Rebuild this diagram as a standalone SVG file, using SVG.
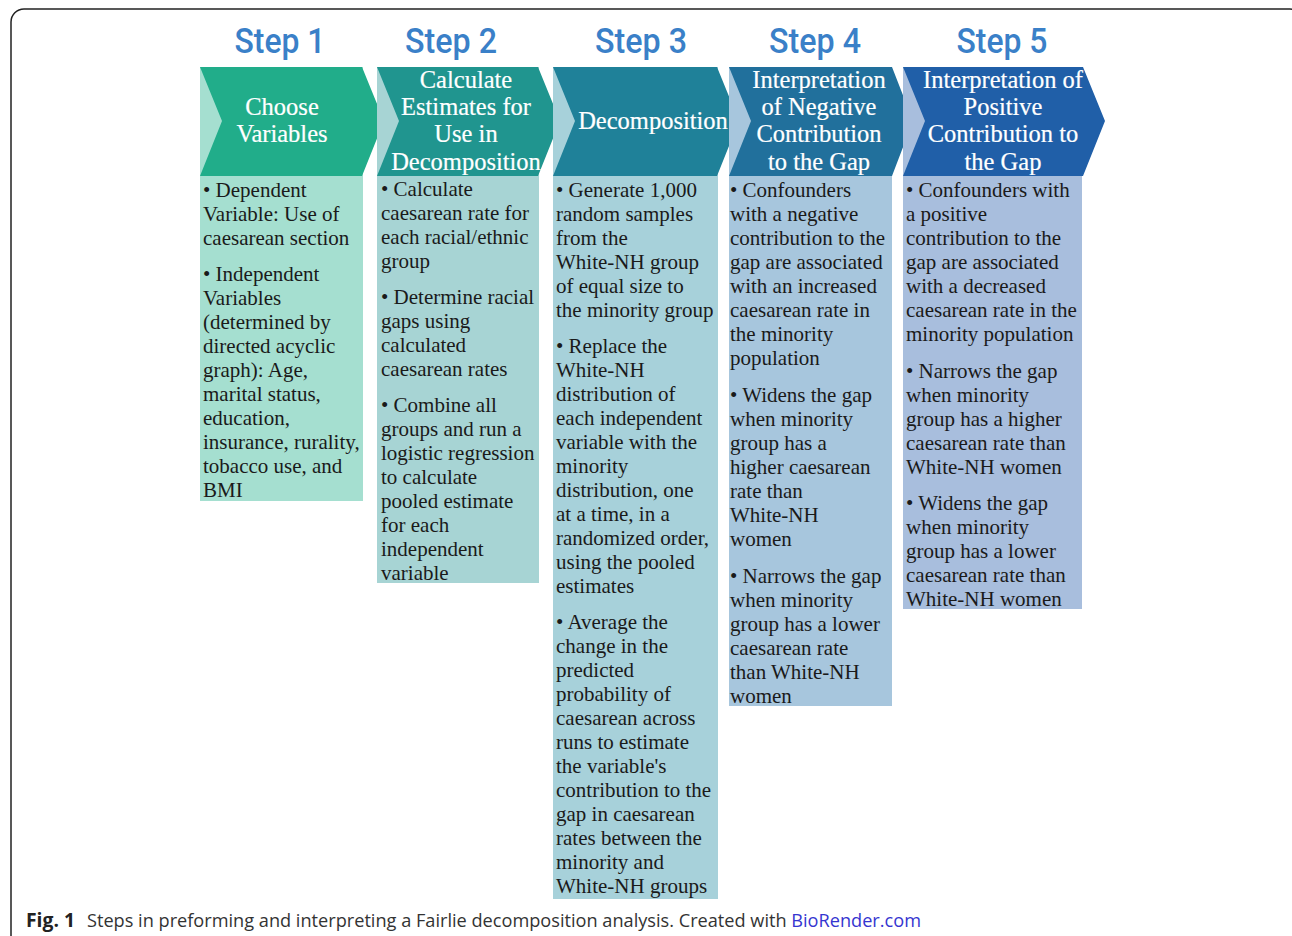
<svg xmlns="http://www.w3.org/2000/svg" width="1292" height="936" viewBox="0 0 1292 936">
<style>
.frame{fill:none;stroke:#222;stroke-width:1.5}
.head{font-family:Roboto,"DejaVu Sans Condensed",sans-serif;font-weight:500;font-size:35px;fill:#3A80C8;text-anchor:middle}
.title{font-family:"Liberation Serif",serif;font-size:24.5px;fill:#fff;text-anchor:middle;stroke:#fff;stroke-width:0.2}
.body{font-family:"Liberation Serif",serif;font-size:21px;fill:#1a1a1a}
.cap{font-family:"Open Sans","Liberation Sans",sans-serif;font-size:19px;fill:#333}
.capb{font-family:"Open Sans","Liberation Sans",sans-serif;font-size:19px;font-weight:bold;fill:#222}
.link{fill:#3535D0}
</style>
<rect width="1292" height="936" fill="#fff"/>
<rect class="frame" x="11" y="9" width="1292" height="940" rx="13"/>

<g id="step1">
<text class="head" x="280" y="53" textLength="91" lengthAdjust="spacingAndGlyphs">Step 1</text>
<rect x="200" y="67" width="163" height="434" fill="#A5DFD0"/>
<polygon points="200,67 362,67 384,121 362,176 200,176 222,121" fill="#21AD8A"/>
<text class="title" x="282"><tspan x="282" y="115">Choose</tspan><tspan x="282" y="142">Variables</tspan></text>
<text class="body">
<tspan x="203" y="197">• Dependent</tspan><tspan x="203" y="221">Variable: Use of</tspan><tspan x="203" y="245">caesarean section</tspan>
<tspan x="203" y="281">• Independent</tspan><tspan x="203" y="305">Variables</tspan><tspan x="203" y="329">(determined by</tspan><tspan x="203" y="353">directed acyclic</tspan><tspan x="203" y="377">graph): Age,</tspan><tspan x="203" y="401">marital status,</tspan><tspan x="203" y="425">education,</tspan><tspan x="203" y="449">insurance, rurality,</tspan><tspan x="203" y="473">tobacco use, and</tspan><tspan x="203" y="497">BMI</tspan>
</text>
</g>

<g id="step2">
<text class="head" x="451" y="53" textLength="92" lengthAdjust="spacingAndGlyphs">Step 2</text>
<rect x="377" y="67" width="162" height="516" fill="#A7D4D4"/>
<polygon points="377,67 538,67 560,121 538,176 377,176 399,121" fill="#20958F"/>
<text class="title"><tspan x="466" y="88">Calculate</tspan><tspan x="466" y="115">Estimates for</tspan><tspan x="466" y="142">Use in</tspan><tspan x="466" y="170">Decomposition</tspan></text>
<text class="body">
<tspan x="381" y="196">• Calculate</tspan><tspan x="381" y="220">caesarean rate for</tspan><tspan x="381" y="244">each racial/ethnic</tspan><tspan x="381" y="268">group</tspan>
<tspan x="381" y="304">• Determine racial</tspan><tspan x="381" y="328">gaps using</tspan><tspan x="381" y="352">calculated</tspan><tspan x="381" y="376">caesarean rates</tspan>
<tspan x="381" y="412">• Combine all</tspan><tspan x="381" y="436">groups and run a</tspan><tspan x="381" y="460">logistic regression</tspan><tspan x="381" y="484">to calculate</tspan><tspan x="381" y="508">pooled estimate</tspan><tspan x="381" y="532">for each</tspan><tspan x="381" y="556">independent</tspan><tspan x="381" y="580">variable</tspan>
</text>
</g>

<g id="step3">
<text class="head" x="641" y="53" textLength="92" lengthAdjust="spacingAndGlyphs">Step 3</text>
<rect x="553" y="67" width="165" height="832" fill="#A7D1DA"/>
<polygon points="553,67 717,67 739,121 717,176 553,176 575,121" fill="#1F8199"/>
<text class="title" x="653" y="129">Decomposition</text>
<text class="body">
<tspan x="556" y="197">• Generate 1,000</tspan><tspan x="556" y="221">random samples</tspan><tspan x="556" y="245">from the</tspan><tspan x="556" y="269">White-NH group</tspan><tspan x="556" y="293">of equal size to</tspan><tspan x="556" y="317">the minority group</tspan>
<tspan x="556" y="353">• Replace the</tspan><tspan x="556" y="377">White-NH</tspan><tspan x="556" y="401">distribution of</tspan><tspan x="556" y="425">each independent</tspan><tspan x="556" y="449">variable with the</tspan><tspan x="556" y="473">minority</tspan><tspan x="556" y="497">distribution, one</tspan><tspan x="556" y="521">at a time, in a</tspan><tspan x="556" y="545">randomized order,</tspan><tspan x="556" y="569">using the pooled</tspan><tspan x="556" y="593">estimates</tspan>
<tspan x="556" y="629">• Average the</tspan><tspan x="556" y="653">change in the</tspan><tspan x="556" y="677">predicted</tspan><tspan x="556" y="701">probability of</tspan><tspan x="556" y="725">caesarean across</tspan><tspan x="556" y="749">runs to estimate</tspan><tspan x="556" y="773">the variable's</tspan><tspan x="556" y="797">contribution to the</tspan><tspan x="556" y="821">gap in caesarean</tspan><tspan x="556" y="845">rates between the</tspan><tspan x="556" y="869">minority and</tspan><tspan x="556" y="893">White-NH groups</tspan>
</text>
</g>

<g id="step4">
<text class="head" x="815" y="53" textLength="92" lengthAdjust="spacingAndGlyphs">Step 4</text>
<rect x="729" y="67" width="163" height="639" fill="#A7C6DD"/>
<polygon points="729,67 892,67 913,121 892,176 729,176 751,121" fill="#21709C"/>
<text class="title"><tspan x="819" y="88">Interpretation</tspan><tspan x="819" y="115">of Negative</tspan><tspan x="819" y="142">Contribution</tspan><tspan x="819" y="170">to the Gap</tspan></text>
<text class="body">
<tspan x="730" y="197">• Confounders</tspan><tspan x="730" y="221">with a negative</tspan><tspan x="730" y="245">contribution to the</tspan><tspan x="730" y="269">gap are associated</tspan><tspan x="730" y="293">with an increased</tspan><tspan x="730" y="317">caesarean rate in</tspan><tspan x="730" y="341">the minority</tspan><tspan x="730" y="365">population</tspan>
<tspan x="730" y="402">• Widens the gap</tspan><tspan x="730" y="426">when minority</tspan><tspan x="730" y="450">group has a</tspan><tspan x="730" y="474">higher caesarean</tspan><tspan x="730" y="498">rate than</tspan><tspan x="730" y="522">White-NH</tspan><tspan x="730" y="546">women</tspan>
<tspan x="730" y="583">• Narrows the gap</tspan><tspan x="730" y="607">when minority</tspan><tspan x="730" y="631">group has a lower</tspan><tspan x="730" y="655">caesarean rate</tspan><tspan x="730" y="679">than White-NH</tspan><tspan x="730" y="703">women</tspan>
</text>
</g>

<g id="step5">
<text class="head" x="1002" y="53" textLength="91" lengthAdjust="spacingAndGlyphs">Step 5</text>
<rect x="903" y="67" width="179" height="542" fill="#A8BEDD"/>
<polygon points="903,67 1083,67 1105,121 1083,176 903,176 925,121" fill="#205FA8"/>
<text class="title"><tspan x="1003" y="88">Interpretation of</tspan><tspan x="1003" y="115">Positive</tspan><tspan x="1003" y="142">Contribution to</tspan><tspan x="1003" y="170">the Gap</tspan></text>
<text class="body">
<tspan x="906" y="197">• Confounders with</tspan><tspan x="906" y="221">a positive</tspan><tspan x="906" y="245">contribution to the</tspan><tspan x="906" y="269">gap are associated</tspan><tspan x="906" y="293">with a decreased</tspan><tspan x="906" y="317">caesarean rate in the</tspan><tspan x="906" y="341">minority population</tspan>
<tspan x="906" y="378">• Narrows the gap</tspan><tspan x="906" y="402">when minority</tspan><tspan x="906" y="426">group has a higher</tspan><tspan x="906" y="450">caesarean rate than</tspan><tspan x="906" y="474">White-NH women</tspan>
<tspan x="906" y="510">• Widens the gap</tspan><tspan x="906" y="534">when minority</tspan><tspan x="906" y="558">group has a lower</tspan><tspan x="906" y="582">caesarean rate than</tspan><tspan x="906" y="606">White-NH women</tspan>
</text>
</g>

<g id="connectors"></g>

<g id="caption">
<text class="capb" x="26" y="927" textLength="49" lengthAdjust="spacingAndGlyphs">Fig. 1</text>
<text class="cap" x="87" y="927" textLength="834" lengthAdjust="spacingAndGlyphs">Steps in preforming and interpreting a Fairlie decomposition analysis. Created with <tspan class="link">BioRender.com</tspan></text>
</g>
</svg>
